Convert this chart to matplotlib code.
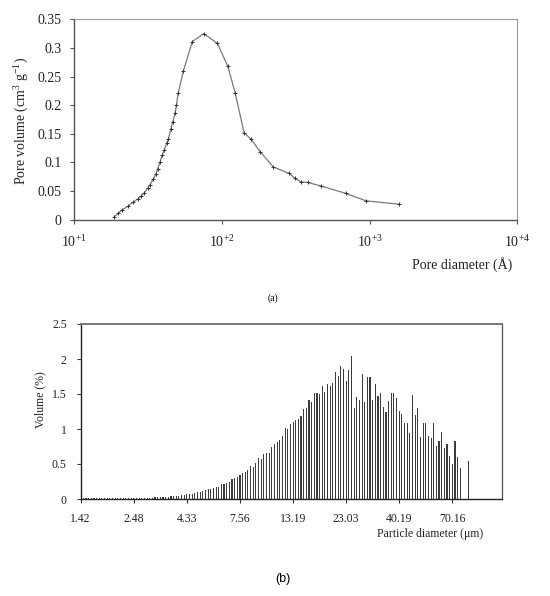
import numpy as np
import matplotlib
matplotlib.use('Agg')
import matplotlib.pyplot as plt

plt.rcParams['font.family'] = ['Liberation Serif', 'DejaVu Serif']
plt.rcParams['mathtext.fontset'] = 'custom'
plt.rcParams['mathtext.rm'] = 'Liberation Serif'

# (a) pore size distribution
pore_diam = [18.7, 19.9, 21.2, 23.3, 25.2, 27.0, 28.4, 29.9, 31.6, 32.7,
             34.4, 35.7, 36.9, 38.2, 39.6, 40.9, 42.4, 43.5, 45.2, 46.6,
             48.3, 49.3, 50.8, 55.0, 63.2, 75.5, 93.4, 109.8, 123.0, 141.6,
             157.2, 181.7, 223.6, 285.6, 313.6, 344.4, 382.2, 468.1, 690.9,
             944.0, 1594.0]
pore_vol = [0.005, 0.011, 0.017, 0.024, 0.031, 0.036, 0.041, 0.047, 0.055, 0.061,
            0.071, 0.079, 0.089, 0.101, 0.113, 0.122, 0.134, 0.141, 0.158, 0.171,
            0.186, 0.200, 0.222, 0.260, 0.311, 0.325, 0.308, 0.268, 0.222, 0.152,
            0.141, 0.119, 0.092, 0.081, 0.072, 0.066, 0.065, 0.059, 0.046,
            0.033, 0.027]
top_xticks = [1e1, 1e2, 1e3, 1e4]
top_xlabels = [r'10$^{\mathregular{+1}}$', r'10$^{\mathregular{+2}}$',
               r'10$^{\mathregular{+3}}$', r'10$^{\mathregular{+4}}$']
top_yticks = [0, 0.05, 0.1, 0.15, 0.2, 0.25, 0.3, 0.35]
top_ylabels = ['0', '0.05', '0.1', '0.15', '0.2', '0.25', '0.3', '0.35']

# (b) particle size distribution, one value per size class
volume_pct = [0.012, 0.013, 0.014, 0.014, 0.013, 0.012, 0.011, 0.010, 0.010, 0.010,
              0.009, 0.009, 0.009, 0.010, 0.010, 0.011, 0.012, 0.012, 0.011, 0.010,
              0.010, 0.010, 0.011, 0.012, 0.013, 0.015, 0.018, 0.020, 0.022, 0.030,
              0.030, 0.030, 0.032, 0.035, 0.040, 0.040, 0.045, 0.050, 0.055, 0.060,
              0.067, 0.070, 0.076, 0.086, 0.095, 0.105, 0.120, 0.130, 0.140, 0.145,
              0.160, 0.170, 0.175, 0.210, 0.215, 0.230, 0.250, 0.285, 0.305, 0.320,
              0.340, 0.365, 0.385, 0.420, 0.470, 0.460, 0.520, 0.580, 0.570, 0.650,
              0.660, 0.660, 0.750, 0.780, 0.810, 0.840, 0.900, 1.010, 1.000, 1.070,
              1.100, 1.130, 1.140, 1.190, 1.290, 1.295, 1.420, 1.390, 1.520, 1.510,
              1.505, 1.620, 1.530, 1.650, 1.620, 1.660, 1.810, 1.760, 1.900, 1.860,
              1.680, 1.840, 2.040, 1.300, 1.460, 1.420, 1.780, 1.390, 1.750, 1.740,
              1.410, 1.640, 1.470, 1.520, 1.310, 1.250, 1.400, 1.520, 1.510, 1.440,
              1.260, 1.210, 1.080, 1.090, 0.950, 1.480, 1.200, 1.300, 0.890, 1.080,
              1.090, 0.900, 0.870, 1.080, 0.760, 0.830, 0.960, 0.730, 0.780, 0.620,
              0.500, 0.830, 0.600, 0.440, 0.0, 0.0, 0.550]
size_ticks = [0, 20, 40, 60, 80, 100, 120, 140]
size_labels = ['1.42', '2.48', '4.33', '7.56', '13.19', '23.03', '40.19', '70.16']
bot_yticks = [0, 0.5, 1, 1.5, 2, 2.5]
bot_ylabels = ['0', '0.5', '1', '1.5', '2', '2.5']

W, H = 550, 596
fig = plt.figure(figsize=(W / 100, H / 100), dpi=100)

# ---- top panel
ax1 = fig.add_axes([74 / W, 1 - 219.7 / H, (517.3 - 74) / W, (219.7 - 19.3) / H])
ax1.plot(pore_diam, pore_vol, color='#7a7a7a', lw=0.9, marker='+', ms=3,
         mec='#333333', mew=0.7)
ax1.set_xscale('log')
ax1.set_xlim(10, 1e4)
ax1.set_ylim(0, 0.35)
ax1.set_xticks(top_xticks)
ax1.set_xticklabels(top_xlabels)
ax1.xaxis.set_minor_locator(matplotlib.ticker.NullLocator())
ax1.set_yticks(top_yticks)
ax1.set_yticklabels(top_ylabels)
ax1.tick_params(axis='both', direction='out', length=3, width=0.8,
                color='#555555', labelsize=10, labelcolor='#222222')
ax1.tick_params(axis='x', pad=7)
ax1.tick_params(axis='y', pad=6)
for s in ['left', 'bottom']:
    ax1.spines[s].set_color('#555555')
    ax1.spines[s].set_linewidth(1.0)
for s in ['top', 'right']:
    ax1.spines[s].set_color('#999999')
    ax1.spines[s].set_linewidth(0.8)

fig.text(21 / W, 1 - 121 / H, r'Pore volume (cm$^{\mathregular{3}}$ g$^{\mathregular{-1}}$)',
         rotation=90, ha='center', va='center', fontsize=10, color='#222222')
fig.text(462 / W, 1 - 265 / H, 'Pore diameter (Å)', ha='center', va='center',
         fontsize=10, color='#222222')
fig.text(273 / W, 1 - 298 / H, '(a)', ha='center', va='center', fontsize=7)

# ---- bottom panel
ax2 = fig.add_axes([80.7 / W, 1 - 499 / H, (501.7 - 80.7) / W, (499 - 324) / H])
x = np.arange(len(volume_pct))
ax2.bar(x, volume_pct, width=0.42, color='#3c3c3c', linewidth=0)
ax2.set_xlim(0, 158.6)
ax2.set_ylim(0, 2.5)
ax2.set_xticks(size_ticks)
ax2.set_xticklabels(size_labels)
ax2.set_yticks(bot_yticks)
ax2.set_yticklabels(bot_ylabels)
ax2.tick_params(axis='both', direction='out', length=3, width=0.8,
                color='#333333', labelsize=8.5, labelcolor='#222222')
ax2.tick_params(axis='x', pad=7)
ax2.tick_params(axis='y', pad=7)
for s in ['left', 'bottom']:
    ax2.spines[s].set_color('#222222')
    ax2.spines[s].set_linewidth(1.0)
ax2.spines['top'].set_color('#777777')
ax2.spines['top'].set_linewidth(1.4)
ax2.spines['right'].set_color('#555555')
ax2.spines['right'].set_linewidth(0.9)

fig.text(40 / W, 1 - 400 / H, 'Volume (%)', rotation=90, ha='center',
         va='center', fontsize=8.5, color='#222222')
fig.text(430 / W, 1 - 534 / H, 'Particle diameter (μm)', ha='center',
         va='center', fontsize=8.5, color='#222222')
fig.text(283 / W, 1 - 579 / H, '(b)', ha='center', va='center', fontsize=9,
         family=['Liberation Sans', 'DejaVu Sans'])

fig.savefig('out.png', dpi=100)
